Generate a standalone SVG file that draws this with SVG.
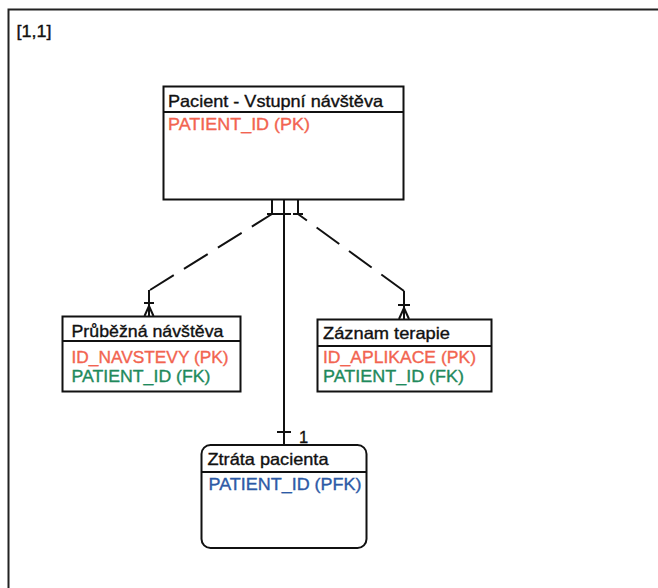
<svg xmlns="http://www.w3.org/2000/svg" width="658" height="588" viewBox="0 0 658 588">
<style>
text{font-family:"Liberation Sans",Arial,sans-serif;font-size:16.5px;stroke-width:0.35px}
.h{fill:#111;stroke:#111}
.pk{fill:#f26450;stroke:#f26450}
.fk{fill:#1f8a5c;stroke:#1f8a5c}
.pfk{fill:#2d5aa6;stroke:#2d5aa6}
.box{fill:#fff;stroke:#111;stroke-width:2}
.ln{stroke:#111;stroke-width:2;fill:none}
.dash{stroke:#111;stroke-width:2;fill:none;stroke-dasharray:28 12}
</style>
<rect x="0" y="0" width="658" height="588" fill="#fff"/>
<rect x="8.5" y="9.5" width="700" height="640" fill="none" stroke="#222" stroke-width="2"/>
<text x="16.5" y="36.5" class="h" textLength="35" lengthAdjust="spacingAndGlyphs">[1,1]</text>
<g id="connectors">
<path class="ln" d="M272,199 V214 M267,214 H277"/>
<path class="dash" d="M150,290 L272,214"/>
<path class="ln" d="M149,290 V316 M144,303 H154 M149,306 L144.5,316 M149,306 L153.5,316"/>
<path class="ln" d="M284,199 V445 M277,214 H291 M277,432 H291"/>
<path class="ln" d="M298,199 V214 M293,214 H303"/>
<path class="dash" d="M404,291 L298,214"/>
<path class="ln" d="M404,291 V319 M398,305 H410 M404,308 L399,319 M404,308 L409,319"/>
<text x="299" y="443" class="h" font-size="15.5">1</text>
</g>
<g id="pacient">
<rect class="box" x="163.5" y="86.5" width="240" height="113"/>
<line class="ln" x1="163.5" y1="112" x2="403.5" y2="112"/>
<text x="168" y="106.5" class="h" textLength="215" lengthAdjust="spacingAndGlyphs">Pacient - Vstupní návštěva</text>
<text x="168" y="130" class="pk" textLength="142" lengthAdjust="spacingAndGlyphs">PATIENT_ID (PK)</text>
</g>
<g id="prubezna">
<rect class="box" x="62.5" y="316.5" width="178" height="75"/>
<line class="ln" x1="62.5" y1="341" x2="240.5" y2="341"/>
<text x="71.5" y="336.5" class="h" textLength="152" lengthAdjust="spacingAndGlyphs">Průběžná návštěva</text>
<text x="71.5" y="362.5" class="pk" textLength="157" lengthAdjust="spacingAndGlyphs">ID_NAVSTEVY (PK)</text>
<text x="71.5" y="381.5" class="fk" textLength="139" lengthAdjust="spacingAndGlyphs">PATIENT_ID (FK)</text>
</g>
<g id="zaznam">
<rect class="box" x="317.5" y="319.5" width="174" height="72"/>
<line class="ln" x1="317.5" y1="346" x2="491.5" y2="346"/>
<text x="323" y="338.5" class="h" textLength="127" lengthAdjust="spacingAndGlyphs">Záznam terapie</text>
<text x="323" y="363" class="pk" textLength="153" lengthAdjust="spacingAndGlyphs">ID_APLIKACE (PK)</text>
<text x="323" y="382" class="fk" textLength="141" lengthAdjust="spacingAndGlyphs">PATIENT_ID (FK)</text>
</g>
<g id="ztrata">
<rect class="box" x="201.5" y="445" width="165" height="103" rx="9"/>
<line class="ln" x1="201.5" y1="472" x2="366.5" y2="472"/>
<text x="207.5" y="465" class="h" textLength="121" lengthAdjust="spacingAndGlyphs">Ztráta pacienta</text>
<text x="208.5" y="490" class="pfk" textLength="153" lengthAdjust="spacingAndGlyphs">PATIENT_ID (PFK)</text>
</g>
</svg>
